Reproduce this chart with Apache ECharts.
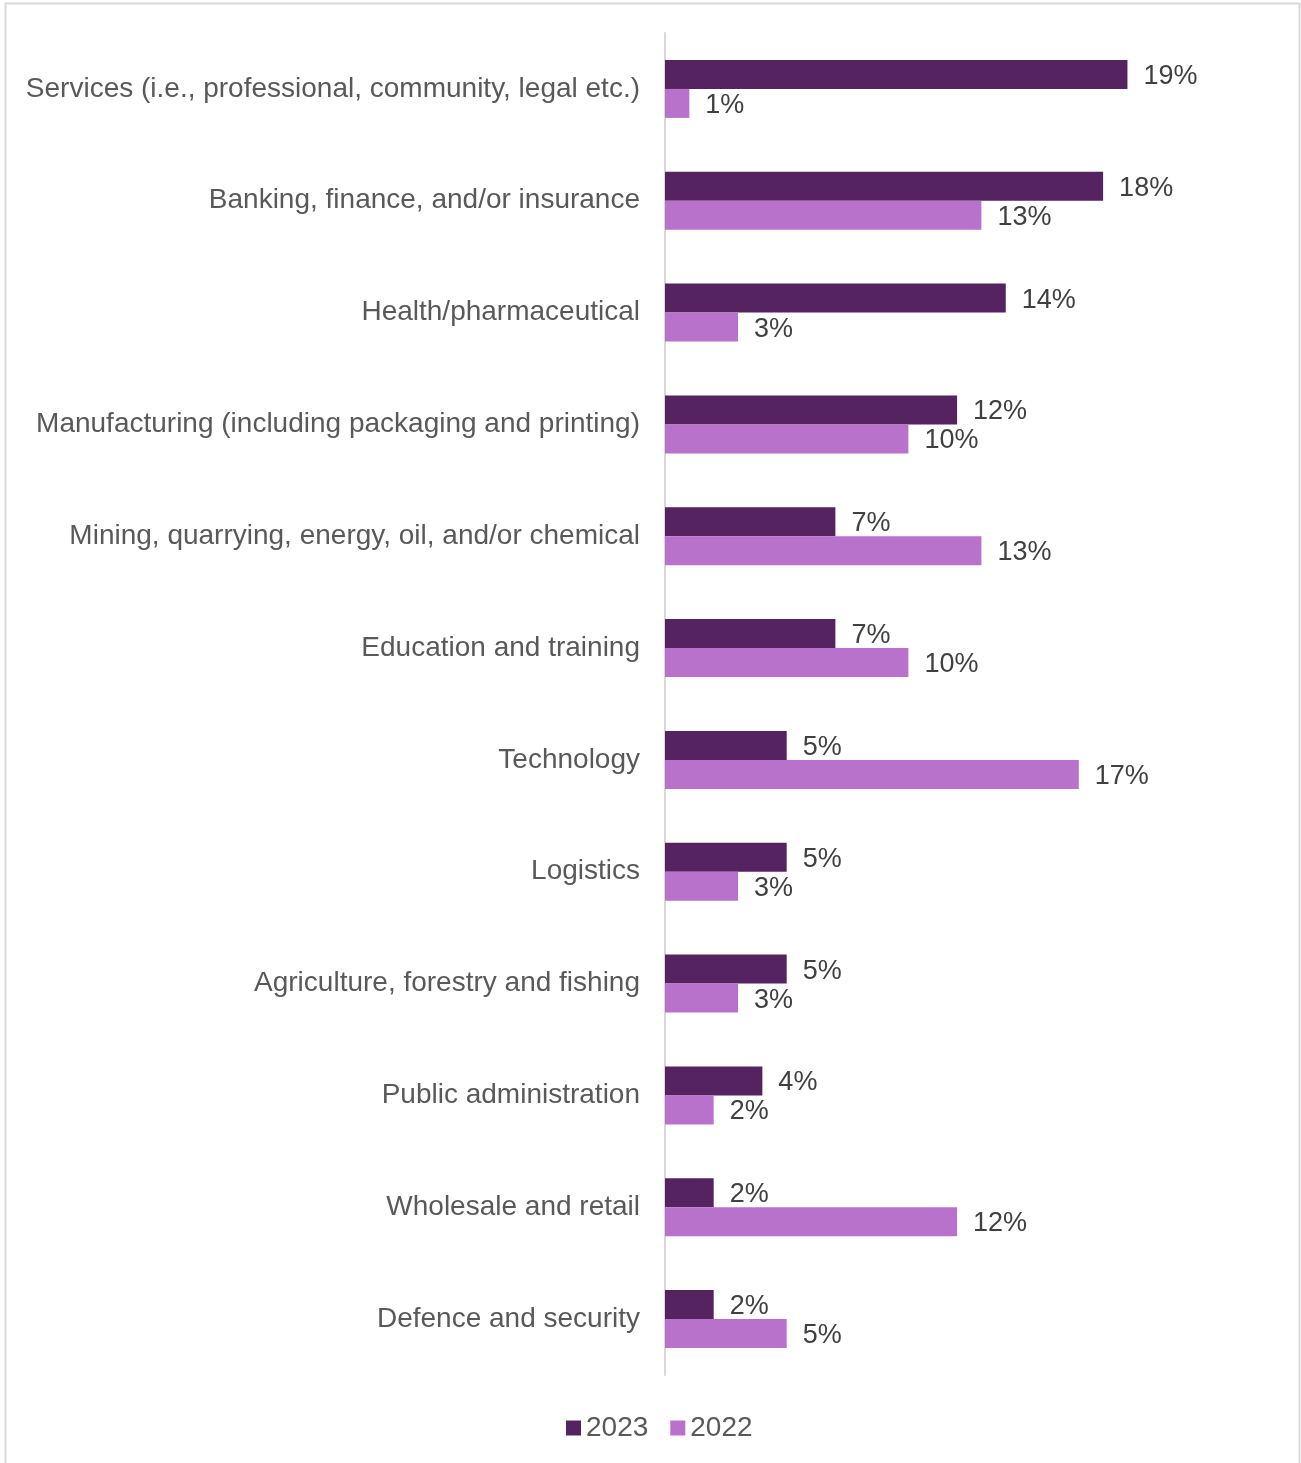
<!DOCTYPE html>
<html>
<head>
<meta charset="utf-8">
<style>
  html, body { margin: 0; padding: 0; background: #ffffff; }
  #chart { width: 1301px; height: 1463px; }
</style>
<script src="https://cdn.jsdelivr.net/npm/echarts@6/dist/echarts.min.js"></script>
</head>
<body>
<div id="chart"></div>
<script>
// Sectors, listed top to bottom
const categories = [
  'Services (i.e., professional, community, legal etc.)',
  'Banking, finance, and/or insurance',
  'Health/pharmaceutical',
  'Manufacturing (including packaging and printing)',
  'Mining, quarrying, energy, oil, and/or chemical',
  'Education and training',
  'Technology',
  'Logistics',
  'Agriculture, forestry and fishing',
  'Public administration',
  'Wholesale and retail',
  'Defence and security'
];

// Share of respondents (%) per sector
const values2023 = [19, 18, 14, 12, 7, 7, 5, 5, 5, 4, 2, 2];
const values2022 = [1, 13, 3, 10, 13, 10, 17, 3, 3, 2, 12, 5];

const seriesNames = ['2023', '2022'];

const FONT = '"Liberation Sans", Arial, sans-serif';
const DARK = '#55235F';
const LIGHT = '#B972CB';

const chart = echarts.init(document.getElementById('chart'), null, { renderer: 'canvas' });

const valueLabel = {
  show: true,
  position: 'right',
  distance: 16,
  offset: [0, 2],
  color: '#404040',
  fontFamily: FONT,
  fontSize: 27,
  formatter: p => p.value + '%'
};

chart.setOption({
  backgroundColor: '#ffffff',
  animation: false,
  textStyle: { fontFamily: FONT },
  graphic: [{
    type: 'rect',
    shape: { x: 5.5, y: 3.5, width: 1294, height: 1480 },
    style: { fill: 'none', stroke: '#D9D9D9', lineWidth: 2 },
    silent: true
  }],
  grid: {
    left: 665,
    top: 33,
    width: 608.5,
    height: 1342,
    containLabel: false
  },
  legend: {
    data: seriesNames,
    left: 566,
    top: 1414,
    padding: 0,
    itemWidth: 15,
    itemHeight: 15,
    itemGap: 22,
    icon: 'rect',
    textStyle: { color: '#595959', fontFamily: FONT, fontSize: 28 }
  },
  xAxis: {
    type: 'value',
    min: 0,
    max: 25,
    show: false
  },
  yAxis: {
    type: 'category',
    data: categories,
    inverse: true,
    axisLine: { show: true, lineStyle: { color: '#D9D9D9', width: 2 } },
    axisTick: { show: false },
    axisLabel: {
      color: '#595959',
      fontFamily: FONT,
      fontSize: 28,
      margin: 25,
      padding: [4, 0, 0, 0]
    },
    splitLine: { show: false }
  },
  series: [
    {
      name: seriesNames[0],
      type: 'bar',
      data: values2023,
      barWidth: 29,
      barGap: '0%',
      itemStyle: { color: DARK },
      label: valueLabel
    },
    {
      name: seriesNames[1],
      type: 'bar',
      data: values2022,
      barWidth: 29,
      barGap: '0%',
      itemStyle: { color: LIGHT },
      label: valueLabel
    }
  ]
});
</script>
</body>
</html>
